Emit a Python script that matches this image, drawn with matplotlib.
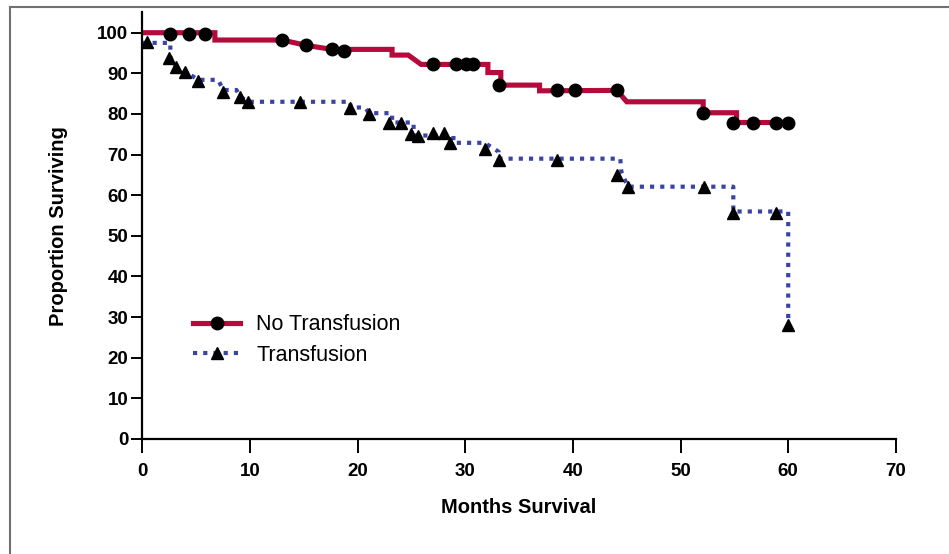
import matplotlib.pyplot as plt
from matplotlib.lines import Line2D

plt.rcParams['font.family'] = ['Liberation Sans', 'DejaVu Sans']

# No Transfusion curve (months, % surviving)
no_tx_months = [0, 6.74, 6.74, 13.0, 15.2, 17.6, 23.2, 23.2, 24.7, 25.9, 32.1, 32.1,
                33.3, 33.3, 36.9, 36.9, 44.1, 45.0, 52.1, 52.1, 55.2, 55.2, 60.0]
no_tx_surv = [100, 100, 98.2, 98.2, 96.9, 95.9, 95.9, 94.5, 94.5, 92.2, 92.2, 90.2,
              90.2, 87.1, 87.1, 85.7, 85.8, 83.0, 83.0, 80.3, 80.3, 77.9, 77.9]
no_tx_cens_months = [2.6, 4.3, 5.8, 13.0, 15.2, 17.6, 18.75, 27.0, 29.1, 30.1, 30.7,
                     33.1, 38.5, 40.2, 44.1, 52.1, 54.9, 56.7, 58.9, 60.0]
no_tx_cens_surv = [99.7, 99.7, 99.7, 98.2, 96.9, 95.9, 95.5, 92.2, 92.2, 92.2, 92.2,
                   87.1, 85.8, 85.8, 85.9, 80.3, 77.9, 77.9, 77.9, 77.9]

# Transfusion curve
tx_months = [0, 2.6, 2.6, 3.1, 4.0, 5.2, 7.05, 7.5, 8.75, 9.06, 9.83, 19.3, 19.35, 20.7,
             21.05, 23.2, 23.2, 25.2, 25.2, 28.9, 28.9, 31.8, 33.1, 33.1, 44.4, 44.5,
             45.1, 54.9, 54.9, 60.0, 60.0]
tx_surv = [97.5, 97.5, 94.0, 91.5, 90.4, 88.4, 88.4, 85.9, 85.9, 84.3, 83.0, 83.0, 81.6,
           81.6, 80.2, 80.2, 77.9, 77.9, 74.7, 74.7, 72.9, 72.9, 70.7, 69.0, 69.0, 65.8,
           62.1, 62.1, 56.0, 56.0, 28.5]
tx_cens_months = [0.4, 2.5, 3.1, 4.0, 5.2, 7.5, 9.06, 9.83, 14.6, 19.3, 21.05, 22.9, 24.0,
                  25.0, 25.6, 27.0, 28.0, 28.6, 31.8, 33.1, 38.5, 44.1, 45.1, 52.2, 54.9,
                  58.9, 60.0]
tx_cens_surv = [97.8, 93.7, 91.5, 90.4, 88.2, 85.5, 84.1, 83.0, 83.0, 81.4, 79.9, 77.7, 77.7,
                75.0, 74.7, 75.2, 75.2, 72.8, 71.3, 68.7, 68.7, 65.0, 62.1, 62.1, 55.6,
                55.6, 28.1]

red = '#B50A3C'
blue = '#3A44A4'

fig = plt.figure(figsize=(9.49, 5.54), dpi=100)
ax = fig.add_axes([0.150, 0.2076, 0.794, 0.770])

ax.plot(no_tx_months, no_tx_surv, color=red, lw=3.7, solid_joinstyle='miter')
ax.plot(no_tx_cens_months, no_tx_cens_surv, 'o', color='black', ms=9)
ax.plot(tx_months, tx_surv, color=blue, lw=3.0, linestyle=(0, (1, 1.45)),
        dash_capstyle='butt')
ax.plot(tx_cens_months, tx_cens_surv, '^', color='black', ms=8.3)

ax.set_xlim(0, 70)
ax.set_ylim(0, 105)
ax.set_xticks(range(0, 71, 10))
ax.set_yticks(range(0, 101, 10))
for s in ['top', 'right']:
    ax.spines[s].set_visible(False)
for s in ['left', 'bottom']:
    ax.spines[s].set_linewidth(1.6)
ax.tick_params(axis='y', length=8, width=1.4, labelsize=13.5, pad=2)
ax.tick_params(axis='x', length=10, width=1.4, labelsize=13.5, pad=7)
for lbl in ax.get_xticklabels() + ax.get_yticklabels():
    lbl.set_fontweight('bold')

ax.set_xlabel('Months Survival', fontsize=14.5, fontweight='bold', labelpad=13)
ax.set_ylabel('Proportion Surviving', fontsize=14.5, fontweight='bold', labelpad=21)

handles = [
    Line2D([], [], color=red, lw=3.7, marker='o', markerfacecolor='black',
           markeredgecolor='black', ms=9),
    Line2D([], [], color=blue, lw=3.0, linestyle=(0, (1, 1.45)), dash_capstyle='butt',
           marker='^', markerfacecolor='black', markeredgecolor='black', ms=8.3),
]
fig.legend(handles, ['No Transfusion', 'Transfusion'], loc='upper left',
           bbox_to_anchor=(0.2034, 0.433), frameon=False, fontsize=15.5,
           handlelength=2.2, handletextpad=0.74, labelspacing=0.46,
           borderpad=0, borderaxespad=0, numpoints=1)

# thin grey frame around the figure (right and bottom cut off)
fig.add_artist(Line2D([0.0105, 0.0105], [0, 0.9874], color='#707070', lw=1.5))
fig.add_artist(Line2D([0.0105, 1], [0.9874, 0.9874], color='#707070', lw=1.5))

fig.savefig('out.png', dpi=100)
